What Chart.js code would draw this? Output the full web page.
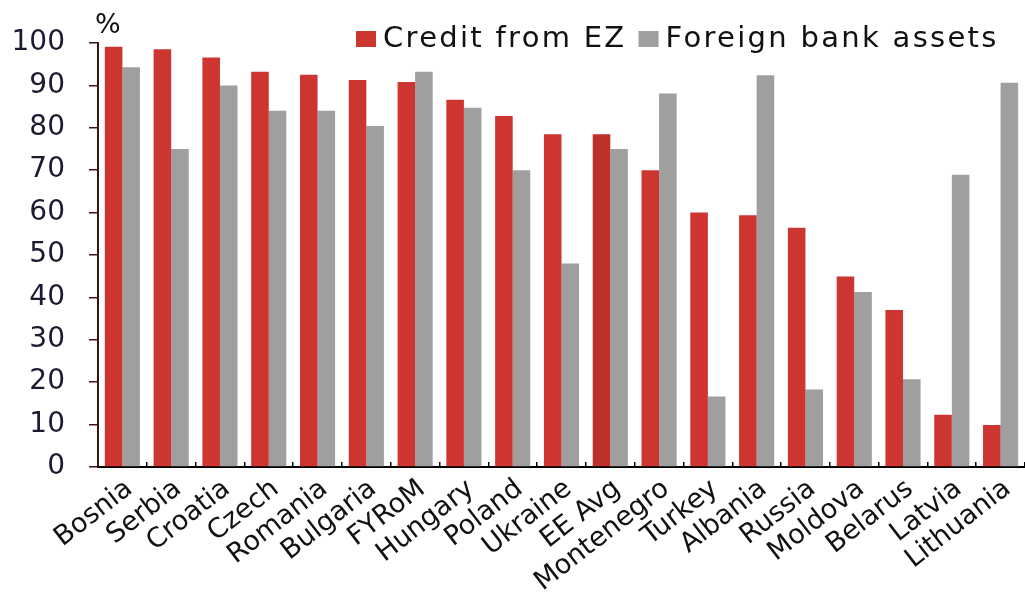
<!DOCTYPE html>
<html>
<head>
<meta charset="utf-8">
<script src="https://cdn.jsdelivr.net/npm/chart.js@4/dist/chart.umd.min.js"></script>
<style>
  html, body { margin: 0; padding: 0; background: #fff; }
  #wrap { width: 1025px; height: 597px; position: relative; overflow: hidden; }
</style>
</head>
<body>
<div id="wrap"><canvas id="chart" width="1025" height="597"></canvas></div>
<script>
"use strict";

var countries = ['Bosnia', 'Serbia', 'Croatia', 'Czech', 'Romania', 'Bulgaria', 'FYRoM', 'Hungary', 'Poland',
    'Ukraine', 'EE Avg', 'Montenegro', 'Turkey', 'Albania', 'Russia', 'Moldova', 'Belarus', 'Latvia', 'Lithuania'];
var creditFromEZ = [99.1, 98.5, 96.6, 93.2, 92.5, 91.3, 90.8, 86.6, 82.8,
    78.5, 78.5, 70.0, 60.0, 59.4, 56.4, 44.9, 37.0, 12.3, 9.9];
var foreignBankAssets = [94.3, 75.0, 90.0, 84.0, 84.0, 80.4, 93.2, 84.7, 70.0,
    48.0, 75.0, 88.1, 16.6, 92.4, 18.3, 41.3, 20.7, 68.9, 90.6];
var yTicks = [0, 10, 20, 30, 40, 50, 60, 70, 80, 90, 100];

var RED = '#cd3530';
var RED_AVG = '#bf302a';
var GREY = '#9f9f9f';
var FONT = '"DejaVu Sans", sans-serif';

// legend + "%" label drawn on top, the chart area reaches up under them
var overlayPlugin = {
    id: 'overlay',
    afterDraw: function (chart) {
        var ctx = chart.ctx;
        ctx.save();
        ctx.fillStyle = '#111';
        ctx.font = '27px ' + FONT;
        ctx.textBaseline = 'alphabetic';
        ctx.textAlign = 'left';
        ctx.fillText('%', 95, 33);

        ctx.font = '29px ' + FONT;
        ctx.letterSpacing = '2.3px';
        var x = 356;
        chart.data.datasets.forEach(function (ds) {
            ctx.fillStyle = ds.legendColor;
            ctx.fillRect(x, 31, 20, 16);
            x += 27;
            ctx.fillStyle = '#111';
            ctx.fillText(ds.label, x, 47);
            x += ctx.measureText(ds.label).width + 12;
        });
        ctx.restore();
    }
};

var chartCtx = document.getElementById('chart');
var chart = new Chart(chartCtx, {
    type: 'bar',
    data: {
        labels: countries,
        datasets: [{
            label: 'Credit from EZ',
            data: creditFromEZ,
            legendColor: RED,
            backgroundColor: function (c) {
                return countries[c.dataIndex] === 'EE Avg' ? RED_AVG : RED;
            },
            borderWidth: 0
        }, {
            label: 'Foreign bank assets',
            data: foreignBankAssets,
            legendColor: GREY,
            backgroundColor: GREY,
            borderWidth: 0
        }]
    },
    options: {
        responsive: false,
        animation: false,
        layout: { padding: { top: 43, left: 0, right: -3, bottom: 0 } },
        datasets: { bar: { categoryPercentage: 0.72, barPercentage: 1.0 } },
        plugins: {
            legend: { display: false },
            tooltip: { enabled: false }
        },
        scales: {
            x: {
                grid: { drawOnChartArea: false, tickLength: -5, color: '#000', lineWidth: 1.5 },
                border: { color: '#000', width: 2 },
                ticks: {
                    autoSkip: false,
                    maxRotation: 38,
                    minRotation: 38,
                    padding: 11,
                    labelOffset: 7,
                    color: '#111',
                    font: { family: FONT, size: 27 }
                },
                afterFit: function (s) {
                    s.height = 130;
                    s.paddingRight = 0;
                }
            },
            y: {
                min: 0,
                max: 100,
                afterBuildTicks: function (s) {
                    s.ticks = yTicks.map(function (v) { return { value: v }; });
                },
                grid: { drawOnChartArea: false, tickLength: 9, color: '#3b1515', lineWidth: 1.5 },
                border: { color: '#3b1515', width: 2 },
                ticks: {
                    padding: 24,
                    color: '#1a1a30',
                    font: { family: FONT, size: 28 }
                },
                afterFit: function (s) { s.width = 98; }
            }
        }
    },
    plugins: [overlayPlugin]
});
</script>
</body>
</html>
